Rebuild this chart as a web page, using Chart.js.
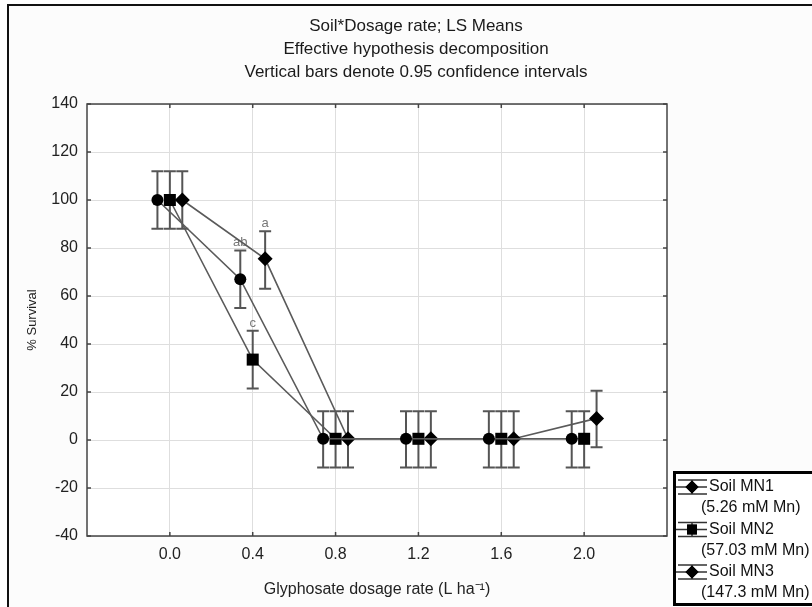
<!DOCTYPE html>
<html>
<head>
<meta charset="utf-8">
<script src="https://cdn.jsdelivr.net/npm/chart.js@4"></script>
<style>
  html, body { margin: 0; padding: 0; background: #fff; }
  #chart { display: block; }
</style>
</head>
<body>
<canvas id="chart" width="812" height="607"></canvas>
<script>
// dosage rates (L ha-1)
const DOSES = [0.0, 0.4, 0.8, 1.2, 1.6, 2.0];

// LS means of % survival
const MN1_MEAN = [100, 67, 0.5, 0.5, 0.5, 0.5];
const MN2_MEAN = [100, 33.5, 0.5, 0.5, 0.5, 0.5];
const MN3_MEAN = [100, 75.5, 0.5, 0.5, 0.5, 9];

// 0.95 confidence limits
const MN1_LOW  = [88, 55, -11.5, -11.5, -11.5, -11.5];
const MN1_HIGH = [112, 79, 12, 12, 12, 12];
const MN2_LOW  = [88, 21.5, -11.5, -11.5, -11.5, -11.5];
const MN2_HIGH = [112, 45.5, 12, 12, 12, 12];
const MN3_LOW  = [88, 63, -11.5, -11.5, -11.5, -3];
const MN3_HIGH = [112, 87, 12, 12, 12, 20.5];

// letters above the 0.4 L/ha bars
const MN1_LETTERS = ["", "ab", "", "", "", ""];
const MN2_LETTERS = ["", "c", "", "", "", ""];
const MN3_LETTERS = ["", "a", "", "", "", ""];

const SERIES_NAMES = ["Soil MN1", "Soil MN2", "Soil MN3"];
const SERIES_SUB = ["(5.26 mM Mn)", "(57.03 mM Mn)", "(147.3 mM Mn)"];

const Y_TICKS = [-40, -20, 0, 20, 40, 60, 80, 100, 120, 140];
const X_TICKS = ["0.0", "0.4", "0.8", "1.2", "1.6", "2.0"];

const FONT = "'Liberation Sans', Arial, sans-serif";
const SHIFT = [-0.06, 0, 0.06]; // side-by-side offset of the three soils

function makeSeries(means, low, high, letters, k) {
    return DOSES.map(function(d, i) {
        return { x: d + SHIFT[k], y: means[i], lo: low[i], hi: high[i], tag: letters[i] };
    });
}

var seriesData = [
    makeSeries(MN1_MEAN, MN1_LOW, MN1_HIGH, MN1_LETTERS, 0),
    makeSeries(MN2_MEAN, MN2_LOW, MN2_HIGH, MN2_LETTERS, 1),
    makeSeries(MN3_MEAN, MN3_LOW, MN3_HIGH, MN3_LETTERS, 2)
];
var pointStyles = ["circle", "rect", "rectRot"];
var pointRadii = [6, 8.5, 7.5];

// white page, light panel and frame, drawn first
var framePlugin = {
    id: "frame",
    beforeDraw: function(chart) {
        var ctx = chart.ctx;
        ctx.save();
        ctx.fillStyle = "#ffffff";
        ctx.fillRect(0, 0, chart.width, chart.height);
        ctx.fillStyle = "#fcfcfc";
        ctx.fillRect(8, 5, chart.width, chart.height);
        ctx.strokeStyle = "#111";
        ctx.lineWidth = 2;
        ctx.strokeRect(8, 5, chart.width + 20, chart.height + 20);
        var a = chart.chartArea;
        ctx.fillStyle = "#ffffff";
        ctx.fillRect(a.left, a.top, a.right - a.left, a.bottom - a.top);
        ctx.restore();
    },
    afterDraw: function(chart) {
        var ctx = chart.ctx;
        var a = chart.chartArea;
        var xs = chart.scales.x, ys = chart.scales.y;
        ctx.save();
        ctx.strokeStyle = "#444";
        ctx.lineWidth = 1.5;
        ctx.strokeRect(a.left, a.top, a.right - a.left, a.bottom - a.top);
        // short inner tick marks on all four sides
        ctx.beginPath();
        X_TICKS.forEach(function(t) {
            var px = xs.getPixelForValue(parseFloat(t));
            ctx.moveTo(px, a.bottom); ctx.lineTo(px, a.bottom - 4);
            ctx.moveTo(px, a.top); ctx.lineTo(px, a.top + 4);
        });
        Y_TICKS.forEach(function(t) {
            var py = ys.getPixelForValue(t);
            ctx.moveTo(a.left, py); ctx.lineTo(a.left + 4, py);
            ctx.moveTo(a.right, py); ctx.lineTo(a.right - 4, py);
        });
        ctx.stroke();

        // titles
        ctx.fillStyle = "#1a1a1a";
        ctx.font = "17px " + FONT;
        ctx.textAlign = "center";
        ctx.textBaseline = "middle";
        ctx.fillText("Soil*Dosage rate; LS Means", 416, 26);
        ctx.fillText("Effective hypothesis decomposition", 416, 49);
        ctx.fillText("Vertical bars denote 0.95 confidence intervals", 416, 72);

        // legend box
        var bx = 673, by = 471;
        ctx.fillStyle = "#ffffff";
        ctx.fillRect(bx, by, chart.width - bx, chart.height - by);
        ctx.strokeStyle = "#000";
        ctx.lineWidth = 3;
        ctx.strokeRect(bx + 1.5, by + 1.5, chart.width, 132);
        var legShapes = ["rectRot", "rect", "rectRot"];
        var legRadii = [6.5, 7, 6.5];
        for (var k = 0; k < 3; k++) {
            var ly = 487 + k * 42.5;
            ctx.strokeStyle = "#333";
            ctx.lineWidth = 1.5;
            ctx.beginPath();
            ctx.moveTo(676, ly); ctx.lineTo(707, ly);
            ctx.moveTo(678, ly - 7); ctx.lineTo(707, ly - 7);
            ctx.moveTo(678, ly + 7); ctx.lineTo(707, ly + 7);
            ctx.moveTo(692, ly - 7); ctx.lineTo(692, ly + 7);
            ctx.stroke();
            ctx.fillStyle = "#000";
            Chart.helpers.drawPoint(ctx, { pointStyle: legShapes[k], radius: legRadii[k], borderWidth: 0 }, 692, ly);
            ctx.fill();
            ctx.fillStyle = "#111";
            ctx.font = "16px " + FONT;
            ctx.textAlign = "left";
            ctx.textBaseline = "middle";
            ctx.fillText(SERIES_NAMES[k], 709, ly);
            ctx.fillText(SERIES_SUB[k], 701, ly + 21);
        }
        ctx.restore();
    }
};

// confidence interval whiskers and letter labels
var errorBarPlugin = {
    id: "errorBars",
    beforeDatasetsDraw: function(chart) {
        var ctx = chart.ctx;
        var xs = chart.scales.x, ys = chart.scales.y;
        ctx.save();
        ctx.strokeStyle = "#555";
        ctx.lineWidth = 2;
        seriesData.forEach(function(pts) {
            pts.forEach(function(p) {
                var px = xs.getPixelForValue(p.x);
                var top = ys.getPixelForValue(p.hi);
                var bot = ys.getPixelForValue(p.lo);
                ctx.beginPath();
                ctx.moveTo(px, top); ctx.lineTo(px, bot);
                ctx.moveTo(px - 6, top); ctx.lineTo(px + 6, top);
                ctx.moveTo(px - 6, bot); ctx.lineTo(px + 6, bot);
                ctx.stroke();
                if (p.tag) {
                    ctx.fillStyle = "#777";
                    ctx.font = "13px " + FONT;
                    ctx.textAlign = "center";
                    ctx.textBaseline = "bottom";
                    ctx.fillText(p.tag, px, top - 1);
                }
            });
        });
        ctx.restore();
    }
};

var ctx = document.getElementById("chart").getContext("2d");
new Chart(ctx, {
    type: "scatter",
    data: {
        datasets: seriesData.map(function(pts, k) {
            return {
                label: SERIES_NAMES[k],
                data: pts,
                showLine: true,
                borderColor: "#5a5a5a",
                borderWidth: 1.6,
                pointStyle: pointStyles[k],
                pointRadius: pointRadii[k],
                pointBackgroundColor: "#000",
                pointBorderColor: "#000",
                pointBorderWidth: 0,
                tension: 0
            };
        })
    },
    options: {
        responsive: false,
        animation: false,
        events: [],
        layout: { padding: { top: 104, left: 0, right: 145, bottom: 0 } },
        plugins: {
            legend: { display: false },
            tooltip: { enabled: false }
        },
        scales: {
            x: {
                type: "linear",
                min: -0.4,
                max: 2.4,
                afterBuildTicks: function(scale) {
                    scale.ticks = X_TICKS.map(function(t) { return { value: parseFloat(t) }; });
                },
                afterFit: function(scale) { scale.height = 71; },
                ticks: {
                    padding: 9,
                    color: "#222",
                    font: { family: FONT, size: 16 },
                    callback: function(v) { return v.toFixed(1); }
                },
                grid: { color: "#dedede", lineWidth: 1, drawTicks: false },
                border: { display: false },
                title: {
                    display: true,
                    text: "Glyphosate dosage rate (L ha\u207B\u00B9)",
                    color: "#222",
                    font: { family: FONT, size: 16 },
                    padding: { top: 0, bottom: 8 }
                }
            },
            y: {
                min: -40,
                max: 140,
                afterBuildTicks: function(scale) {
                    scale.ticks = Y_TICKS.map(function(t) { return { value: t }; });
                },
                afterFit: function(scale) { scale.width = 87; },
                ticks: {
                    padding: 9,
                    color: "#222",
                    font: { family: FONT, size: 16 }
                },
                grid: { color: "#dedede", lineWidth: 1, drawTicks: false },
                border: { display: false },
                title: {
                    display: true,
                    text: "% Survival",
                    color: "#222",
                    font: { family: FONT, size: 13 },
                    padding: { top: 25, bottom: 0 }
                }
            }
        }
    },
    plugins: [framePlugin, errorBarPlugin]
});
</script>
</body>
</html>
